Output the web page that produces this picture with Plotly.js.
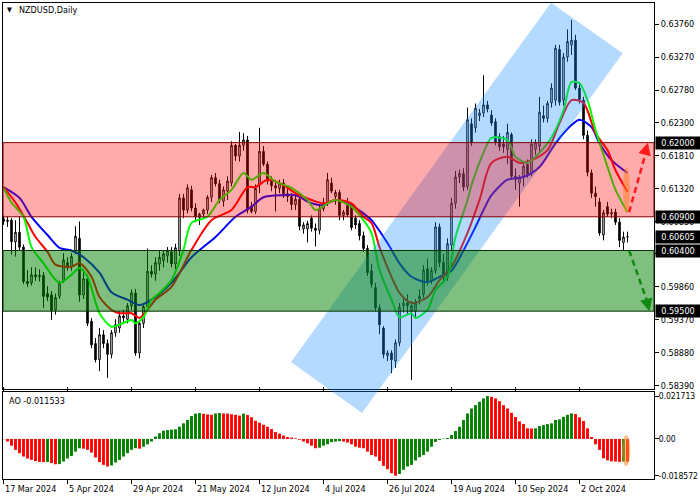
<!DOCTYPE html>
<html><head><meta charset="utf-8">
<script src="https://cdn.plot.ly/plotly-3.0.1.min.js"></script>
<style>html,body{margin:0;padding:0;background:#fff}#chart{width:700px;height:500px}</style>
</head><body><div id="chart"></div>
<script>
// ---- candle data (daily NZDUSD), one entry per bar ----
const opens = [.6087,.6083,.6085,.6053,.6067,.6045,.5994,.5992,.6004,.6001,.6003,.5976,.5974,.5952,.5972,.5995,.6022,.6016,.6040,.6058,
.5974,.5998,.5935,.5902,.5878,.5915,.5902,.5886,.5918,.5925,.5943,.5938,.5958,.5977,.5888,.5932,.5957,.6009,.6005,.6020,
.6025,.6032,.6038,.6020,.6040,.6118,.6100,.6130,.6103,.6089,.6094,.6100,.6119,.6148,.6139,.6113,.6128,.6140,.6196,.6180,
.6196,.6204,.6106,.6098,.6138,.6187,.6168,.6143,.6136,.6132,.6140,.6124,.6120,.6108,.6116,.6072,.6072,.6088,.6073,.6070,
.6102,.6110,.6140,.6120,.6126,.6092,.6112,.6105,.6088,.6080,.6062,.6043,.6010,.5985,.5955,.5925,.5884,.5888,.5876,.5903,
.5958,.5962,.5950,.5950,.5968,.5975,.6013,.5995,.6010,.6075,.6022,.6000,.6048,.6110,.6149,.6154,.6135,.6228,.6222,.6240,
.6244,.6256,.6241,.6231,.6209,.6198,.6190,.6212,.6150,.6140,.6148,.6168,.6155,.6190,.6195,.6240,.6236,.6259,.6263,.6338,
.6263,.6327,.6345,.6352,.6281,.6263,.6211,.6155,.6125,.6112,.6063,.6105,.6094,.6097,.6082,.6052,.6060];
const highs = [.6092,.6090,.6088,.6085,.6091,.6049,.6011,.6015,.6015,.6012,.6008,.5987,.5980,.5976,.5995,.6036,.6030,.6036,.6076,.6083,
.6012,.6004,.5940,.5910,.5925,.5922,.5908,.5922,.5938,.5950,.5952,.5962,.5982,.5983,.5935,.5962,.6043,.6018,.6030,.6040,
.6040,.6045,.6045,.6050,.6124,.6124,.6138,.6136,.6110,.6096,.6102,.6122,.6152,.6155,.6145,.6135,.6150,.6202,.6198,.6216,
.6214,.6210,.6112,.6138,.6222,.6195,.6172,.6150,.6145,.6145,.6146,.6132,.6125,.6122,.6120,.6082,.6084,.6092,.6080,.6108,
.6118,.6155,.6148,.6130,.6130,.6100,.6118,.6108,.6092,.6085,.6068,.6048,.6020,.5992,.5960,.5928,.5892,.5892,.5908,.5962,
.5968,.5975,.5965,.5968,.5982,.6018,.6028,.6015,.6082,.6080,.6035,.6058,.6118,.6158,.6160,.6162,.6252,.6236,.6258,.6250,
.6300,.6262,.6248,.6236,.6214,.6210,.6228,.6215,.6162,.6152,.6170,.6175,.6205,.6205,.6268,.6255,.6262,.6288,.6345,.6345,
.6333,.6368,.6382,.6360,.6290,.6268,.6218,.6160,.6135,.6118,.6100,.6112,.6102,.6102,.6088,.6068,.6068];
const lows = [.6078,.6075,.6034,.6031,.6040,.5990,.5986,.5988,.5995,.5994,.5955,.5965,.5937,.5945,.5968,.5992,.6010,.6010,.6035,.5964,
.5968,.5928,.5895,.5874,.5861,.5895,.5851,.5880,.5912,.5918,.5932,.5932,.5952,.5884,.5880,.5925,.5950,.6000,.5995,.6010,
.6015,.6022,.6015,.6012,.6032,.6088,.6095,.6098,.6082,.6078,.6087,.6094,.6112,.6135,.6110,.6105,.6115,.6135,.6173,.6172,
.6188,.6095,.6095,.6094,.6125,.6165,.6138,.6128,.6098,.6125,.6118,.6112,.6100,.6100,.6070,.6065,.6052,.6068,.6046,.6064,
.6098,.6106,.6125,.6108,.6085,.6085,.6090,.6070,.6072,.6055,.6038,.6002,.5985,.5950,.5916,.5880,.5876,.5858,.5866,.5898,
.5948,.5945,.5848,.5940,.5960,.5970,.5988,.5990,.6005,.6015,.5992,.5995,.6040,.6102,.6140,.6128,.6130,.6195,.6215,.6232,
.6238,.6245,.6225,.6196,.6188,.6185,.6168,.6145,.6130,.6105,.6135,.6148,.6150,.6182,.6185,.6230,.6230,.6252,.6255,.6255,
.6255,.6320,.6330,.6278,.6258,.6205,.6150,.6118,.6105,.6062,.6055,.6090,.6088,.6078,.6045,.6040,.6052];
const closes = [.6083,.6085,.6053,.6067,.6045,.5994,.5991,.6004,.6001,.6003,.5972,.5971,.5951,.5970,.5992,.6026,.6014,.6031,.6061,.5974,
.5998,.5932,.5900,.5878,.5915,.5902,.5886,.5918,.5930,.5943,.5940,.5958,.5977,.5888,.5932,.5957,.6009,.6005,.6022,.6030,
.6035,.6040,.6020,.6044,.6118,.6100,.6133,.6103,.6090,.6094,.6100,.6119,.6148,.6139,.6115,.6130,.6143,.6196,.6180,.6196,
.6204,.6100,.6098,.6132,.6187,.6168,.6143,.6136,.6133,.6140,.6124,.6120,.6108,.6116,.6076,.6078,.6080,.6073,.6070,.6102,
.6110,.6145,.6128,.6126,.6092,.6097,.6093,.6074,.6078,.6062,.6043,.6007,.5990,.5955,.5930,.5886,.5888,.5878,.5903,.5956,
.5962,.5958,.5958,.5962,.5972,.6011,.5995,.6010,.6075,.6022,.6000,.6050,.6110,.6149,.6154,.6134,.6234,.6200,.6251,.6244,
.6256,.6250,.6229,.6201,.6194,.6194,.6215,.6150,.6145,.6148,.6165,.6153,.6198,.6200,.6245,.6236,.6258,.6281,.6340,.6260,
.6327,.6350,.6352,.6281,.6264,.6211,.6156,.6125,.6120,.6066,.6096,.6094,.6096,.6082,.6055,.6060,.60605];

// ---- Alligator-style moving averages, read at sample bars ----
const slowIdx = [0,4,7,11,14,17,20,24,27,31,34,37,42,47,53,58,62,65,70,73,77,80,83,87,90,92,96,99,102,106,109,112,115,118,120,122,126,130,134,138,142,144,147,149,152,156];
const slowVal = [.6134,.6118,.6090,.6063,.6044,.6040,.6030,.6007,.5978,.5967,.5959,.5967,.5992,.6030,.6060,.6090,.6105,.6119,.6122,.6122,.6110,.6107,.6115,.6107,.6095,.6085,.6051,.6021,.6001,.5993,.6001,.6010,.6040,.6075,.6100,.6122,.6145,.6149,.6164,.6199,.6226,.6234,.6223,.6199,.6174,.6155];
const midIdx = [0,3,6,8,11,13,17,19,22,24,27,29,32,34,36,38,42,47,52,57,61,63,66,70,73,77,80,83,87,90,92,94,97,99,102,106,109,112,116,119,122,126,129,132,136,139,142,145,148,151,153,156];
const midVal = [.6134,.6111,.6081,.6060,.6038,.6019,.6016,.6021,.6001,.5971,.5952,.5947,.5947,.5940,.5952,.5967,.5986,.6041,.6085,.6100,.6134,.6134,.6145,.6137,.6125,.6115,.6110,.6115,.6110,.6090,.6081,.6045,.6001,.5977,.5962,.5971,.5996,.6016,.6066,.6115,.6170,.6179,.6170,.6174,.6189,.6229,.6263,.6259,.6214,.6189,.6159,.6127];
const fastIdx = [0,2,5,7,10,14,17,19,21,24,27,29,32,33,35,37,39,42,45,47,51,54,57,60,62,65,68,72,76,78,81,83,87,90,92,94,97,99,102,103,106,108,111,113,116,117,120,122,126,128,131,133,137,140,142,144,146,148,151,153,156];
const fastVal = [.6133,.6111,.6090,.6045,.6021,.5992,.6004,.6014,.6001,.5947,.5927,.5930,.5937,.5932,.5941,.5967,.5977,.5996,.6041,.6081,.6090,.6115,.6130,.6155,.6145,.6155,.6142,.6133,.6115,.6100,.6110,.6115,.6105,.6085,.6066,.6011,.5967,.5941,.5947,.5940,.5952,.5981,.6001,.6060,.6115,.6137,.6185,.6207,.6204,.6179,.6170,.6179,.6208,.6248,.6290,.6288,.6263,.6219,.6164,.6130,.6097];

// ---- Awesome Oscillator values ----
const aoVals = [-0.0002,-0.0013,-0.0034,-0.0055,-0.0072,-0.0089,-0.0099,-0.0106,-0.0112,-0.0116,-0.0117,-0.0116,-0.0122,-0.0128,-0.0127,-0.0114,-0.0099,-0.0086,-0.0064,-0.0047,
-0.0049,-0.0055,-0.0069,-0.0094,-0.0117,-0.0131,-0.0139,-0.0134,-0.0119,-0.0106,-0.0089,-0.0072,-0.0055,-0.0047,-0.0049,-0.0039,-0.0027,-0.0013,0.0012,0.0029,
0.0042,0.0045,0.0047,0.0049,0.0062,0.0079,0.0096,0.0116,0.0128,0.0131,0.0127,0.0124,0.0122,0.0129,0.0131,0.0129,0.0128,0.0125,0.0122,0.0118,
0.0128,0.0121,0.0110,0.0092,0.0082,0.0072,0.0062,0.0050,0.0035,0.0027,0.0017,0.0010,0.0007,0.0003,-0.0004,-0.0013,-0.0022,-0.0034,-0.0047,-0.0044,
-0.0034,-0.0027,-0.0016,-0.0013,-0.0011,-0.0013,-0.0018,-0.0027,-0.0039,-0.0044,-0.0047,-0.0064,-0.0081,-0.0089,-0.0111,-0.0136,-0.0153,-0.0173,-0.018572,-0.0177,
-0.0156,-0.0139,-0.0131,-0.0109,-0.0092,-0.0081,-0.0064,-0.0039,-0.0015,-0.0005,0.0002,0.0005,0.0020,0.0040,0.0062,0.0096,0.0129,0.0154,0.0171,0.0188,
0.0205,0.021713,0.0213,0.0205,0.0191,0.0171,0.0154,0.0132,0.0111,0.0089,0.0076,0.0054,0.0053,0.0054,0.0065,0.0070,0.0075,0.0079,0.0096,0.0099,
0.0112,0.0122,0.0129,0.0126,0.0109,0.0091,0.0054,0.0010,-0.0027,-0.0055,-0.0098,-0.0108,-0.0113,-0.0114,-0.0116,-0.0114,-0.011533];

// ---- axis labels ----
const dateTickIdx = [0,16,32,48,64,80,96,112,128,144];
const dateTickText = ['17 Mar 2024','5 Apr 2024','29 Apr 2024','21 May 2024','12 Jun 2024','4 Jul 2024','26 Jul 2024','19 Aug 2024','10 Sep 2024','2 Oct 2024'];
const priceTickVals = [0.6376,0.6327,0.6278,0.6230,0.6181,0.6132,0.6083,0.6035,0.5986,0.5937,0.5888,0.5839];
const priceTickText = ['0.63760','0.63270','0.62780','0.62300','0.61810','0.61320','0.60830','0.60350','0.59860','0.59370','0.58880','0.58390'];
const levelVals = [0.62000,0.60900,0.60605,0.60400,0.59500];
const levelText = ['0.62000','0.60900','0.60605','0.60400','0.59500'];
const aoTickVals = [0.021713,0,-0.018572];
const aoTickText = ['0.021713','0.00','-0.018572'];
const resistanceZone = [0.60900,0.62000];
const supportZone = [0.59500,0.60400];
// channel corners (bar index, price)
const channelIdx = [71.875,89.625,154.8,136.875];
const channelPrice = [0.58746,0.57989,0.63325,0.64076];

const barIndex = opens.map((_, i) => i);
const FONT = "Tahoma, 'DejaVu Sans Condensed', 'Liberation Sans', Arial, sans-serif";
const XR = [-0.125, 162.625], YR = [0.583454, 0.640715], YD = [0.18908, 1];
const Y2R = [-0.02024, 0.023735], Y2D = [0, 0.18277];
function px(i){ return (i - XR[0]) / (XR[1] - XR[0]); }
function py(p){ return YD[0] + (p - YR[0]) / (YR[1] - YR[0]) * (YD[1] - YD[0]); }

const aoColors = aoVals.map((v, i) => (i > 0 && v > aoVals[i-1]) ? '#008000' : '#ff0000');

const traces = [
  {type:'candlestick', x:barIndex, open:opens, high:highs, low:lows, close:closes, xaxis:'x', yaxis:'y',
   increasing:{line:{color:'#000', width:1}, fillcolor:'#ffffff'},
   decreasing:{line:{color:'#000', width:1}, fillcolor:'#000000'},
   whiskerwidth:0, hoverinfo:'skip', showlegend:false},
  {type:'scatter', mode:'lines', x:slowIdx, y:slowVal, line:{color:'#0000ff', width:2, shape:'spline', smoothing:0.8}, yaxis:'y', hoverinfo:'skip'},
  {type:'scatter', mode:'lines', x:midIdx, y:midVal, line:{color:'#ff0000', width:2, shape:'spline', smoothing:0.8}, yaxis:'y', hoverinfo:'skip'},
  {type:'scatter', mode:'lines', x:fastIdx, y:fastVal, line:{color:'#00ff00', width:2, shape:'spline', smoothing:0.8}, yaxis:'y', hoverinfo:'skip'},
  {type:'bar', x:barIndex, y:aoVals, marker:{color:aoColors, line:{width:0}}, width:0.72, xaxis:'x', yaxis:'y2', hoverinfo:'skip'}
];

const chPath = channelIdx.map((v, k) => (k ? 'L' : 'M') + px(v).toFixed(5) + ',' + py(channelPrice[k]).toFixed(5)).join(' ') + ' Z';

const shapes = [
  {type:'path', xref:'paper', yref:'paper', path:chPath, fillcolor:'rgba(30,144,255,0.33)', line:{width:0}, layer:'above'},
  {type:'rect', xref:'paper', yref:'y', x0:0, x1:1, y0:resistanceZone[0], y1:resistanceZone[1], fillcolor:'rgba(255,0,0,0.33)', line:{color:'#800000', width:1}, layer:'above'},
  {type:'rect', xref:'paper', yref:'y', x0:0, x1:1, y0:supportZone[0], y1:supportZone[1], fillcolor:'rgba(0,128,0,0.5)', line:{color:'#0a300a', width:1}, layer:'above'},
  {type:'circle', xref:'x', yref:'y', x0:154.9, x1:156.6, y0:0.6096, y1:0.6164, fillcolor:'rgba(255,130,40,0.55)', line:{width:0}, layer:'above'},
  {type:'circle', xref:'x', yref:'y2', x0:154.6, x1:156.7, y0:-0.0137, y1:0.0020, fillcolor:'rgba(255,140,40,0.55)', line:{width:0}, layer:'above'},
  {type:'line', xref:'x', yref:'y', x0:156.4, y0:0.6097, x1:160.9, y1:0.6192, line:{color:'#ff1a1a', width:2.5, dash:'6px,4px'}, layer:'above'},
  {type:'line', xref:'x', yref:'y', x0:156.4, y0:0.6040, x1:161.3, y1:0.5958, line:{color:'#108a10', width:2.5, dash:'6px,4px'}, layer:'above'}
];

const annotations = [
  {xref:'paper', yref:'paper', x:0, y:1, xshift:2, yshift:-7, xanchor:'left', yanchor:'middle', text:'▼', showarrow:false, font:{family:FONT, size:7, color:'#000'}},
  {xref:'paper', yref:'paper', x:0, y:1, xshift:14, yshift:-7, xanchor:'left', yanchor:'middle', text:'NZDUSD,Daily', showarrow:false, font:{family:FONT, size:9, color:'#000'}},
  {xref:'paper', yref:'paper', x:0, y:Y2D[1], xshift:4, yshift:-9, xanchor:'left', yanchor:'middle', text:'AO -0.011533', showarrow:false, font:{family:FONT, size:9, color:'#000'}},
  {xref:'x', yref:'y', x:161.1, y:0.6200, ax:-3, ay:11, axref:'pixel', ayref:'pixel', showarrow:true, arrowhead:2, arrowsize:1, arrowwidth:2.5, arrowcolor:'#ff1a1a', text:''},
  {xref:'x', yref:'y', x:161.5, y:0.5950, ax:-3, ay:-11, axref:'pixel', ayref:'pixel', showarrow:true, arrowhead:2, arrowsize:1, arrowwidth:2.5, arrowcolor:'#108a10', text:''}
];
dateTickIdx.forEach((v, k) => annotations.push({xref:'x', yref:'paper', x:v, y:0, xshift:-1, yshift:-3, xanchor:'left', yanchor:'top',
  text:dateTickText[k], showarrow:false, font:{family:FONT, size:9, color:'#000'}}));
levelVals.forEach((v, k) => annotations.push({xref:'paper', yref:'y', x:1, y:v, xshift:1, xanchor:'left', yanchor:'middle',
  text:levelText[k], showarrow:false, bgcolor:'#000', width:42, height:10, borderpad:1, align:'center',
  font:{family:FONT, size:9, color:'#fff'}}));

const axisCommon = {showgrid:false, zeroline:false, showline:true, linecolor:'#000', linewidth:1, ticks:'outside', ticklen:4, tickcolor:'#000', fixedrange:true};

const layout = {
  width:700, height:500, margin:{l:3, r:46, t:3, b:21, pad:0},
  paper_bgcolor:'#fff', plot_bgcolor:'#fff', showlegend:false, hovermode:false,
  boxgap:0.45, bargap:0.25,
  xaxis: Object.assign({}, axisCommon, {range:XR, domain:[0,1], anchor:'y2', mirror:'all', tickvals:dateTickIdx, showticklabels:false, rangeslider:{visible:false}}),
  yaxis: Object.assign({}, axisCommon, {range:YR, domain:YD, anchor:'x', side:'right', mirror:true, tickvals:priceTickVals, ticktext:priceTickText,
     tickfont:{family:FONT, size:9, color:'#000'}}),
  yaxis2: Object.assign({}, axisCommon, {range:Y2R, domain:Y2D, anchor:'x', side:'right', mirror:true, tickvals:aoTickVals, ticktext:aoTickText,
     ticklabelstandoff:-2, tickfont:{family:FONT, size:8.5, color:'#000'}}),
  shapes: shapes,
  annotations: annotations
};

Plotly.newPlot('chart', traces, layout, {displayModeBar:false, staticPlot:true});
</script>
</body></html>
